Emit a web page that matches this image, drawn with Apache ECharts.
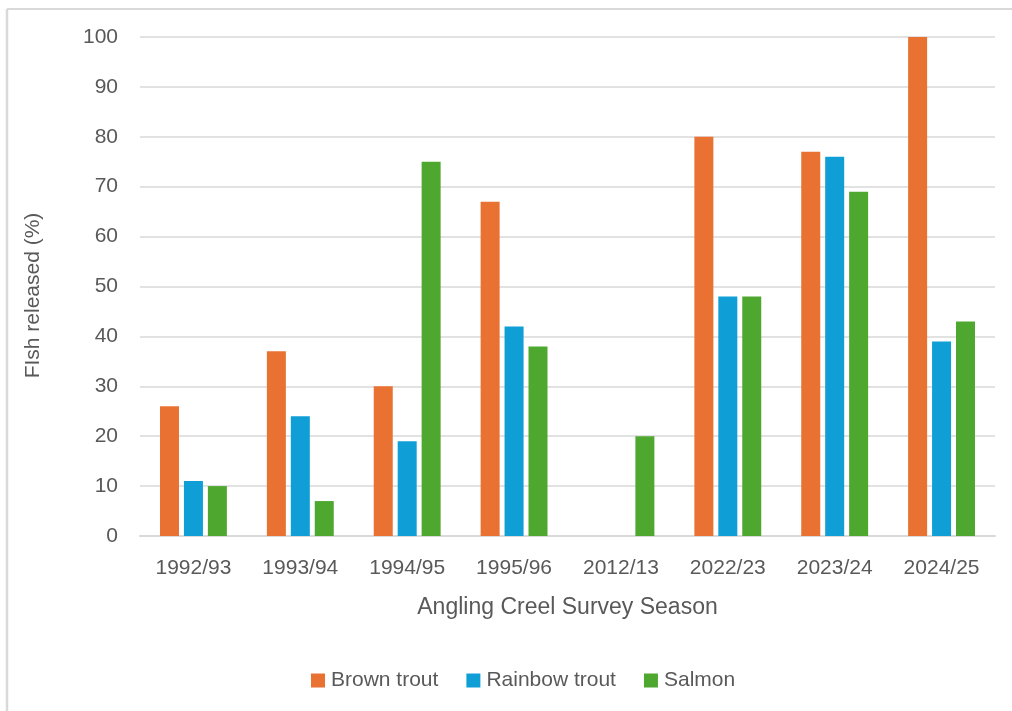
<!DOCTYPE html>
<html>
<head>
<meta charset="utf-8">
<title>Fish released by season</title>
<script src="https://cdn.jsdelivr.net/npm/echarts@6/dist/echarts.min.js"></script>
<style>
  html, body { margin: 0; padding: 0; background: #ffffff; }
  #chart { width: 1012px; height: 711px; }
</style>
</head>
<body>
<div id="chart"></div>
<script>
// Angling creel survey seasons
const seasons = ['1992/93', '1993/94', '1994/95', '1995/96', '2012/13', '2022/23', '2023/24', '2024/25'];

// Share of fish released (%) per species; null where no data was recorded
const brownTrout   = [26, 37, 30, 67, null, 80, 77, 100];
const rainbowTrout = [11, 24, 19, 42, null, 48, 76, 39];
const salmon       = [10, 7, 75, 38, 20, 48, 69, 43];

const seriesNames = ['Brown trout', 'Rainbow trout', 'Salmon'];
const seriesColors = ['#E97132', '#0F9ED5', '#4EA72E'];

const FONT = '"Liberation Sans", Arial, sans-serif';
const TEXT = '#595959';
const GRID = '#d9d9d9';

const chart = echarts.init(document.getElementById('chart'), null, { renderer: 'canvas' });

const values = [brownTrout, rainbowTrout, salmon];

chart.setOption({
  backgroundColor: '#ffffff',
  animation: false,
  textStyle: { fontFamily: FONT },
  graphic: [
    // chart frame edges
    { type: 'line', shape: { x1: 7, y1: 9, x2: 1012, y2: 9 }, style: { stroke: GRID, lineWidth: 2 }, silent: true },
    { type: 'line', shape: { x1: 7, y1: 9, x2: 7, y2: 711 }, style: { stroke: GRID, lineWidth: 2.5 }, silent: true }
  ],
  grid: { left: 140, right: 17, top: 37, bottom: 175, containLabel: false },
  legend: {
    data: seriesNames,
    left: 306,
    top: 665,
    itemWidth: 14,
    itemHeight: 14,
    itemGap: 28,
    icon: 'rect',
    textStyle: { color: TEXT, fontSize: 21, fontFamily: FONT, padding: [0, 0, 0, 1] }
  },
  xAxis: {
    type: 'category',
    data: seasons,
    name: 'Angling Creel Survey Season',
    nameLocation: 'middle',
    nameGap: 60,
    nameTextStyle: { color: TEXT, fontSize: 23, fontFamily: FONT },
    axisLine: { lineStyle: { color: GRID, width: 2 } },
    axisTick: { show: false },
    axisLabel: { color: TEXT, fontSize: 21, margin: 22, fontFamily: FONT }
  },
  yAxis: {
    type: 'value',
    min: 0,
    max: 100,
    interval: 10,
    name: 'FIsh released (%)',
    nameLocation: 'middle',
    nameGap: 96,
    nameTextStyle: { color: TEXT, fontSize: 21, fontFamily: FONT, padding: [0, 18, 0, 0] },
    axisLine: { show: false },
    axisTick: { show: false },
    axisLabel: { color: TEXT, fontSize: 21, margin: 22, fontFamily: FONT },
    splitLine: { lineStyle: { color: GRID, width: 1.5 } }
  },
  series: seriesNames.map((name, i) => ({
    name: name,
    type: 'bar',
    data: values[i],
    barWidth: 19,
    barGap: '26%',
    itemStyle: { color: seriesColors[i] }
  }))
});
</script>
</body>
</html>
